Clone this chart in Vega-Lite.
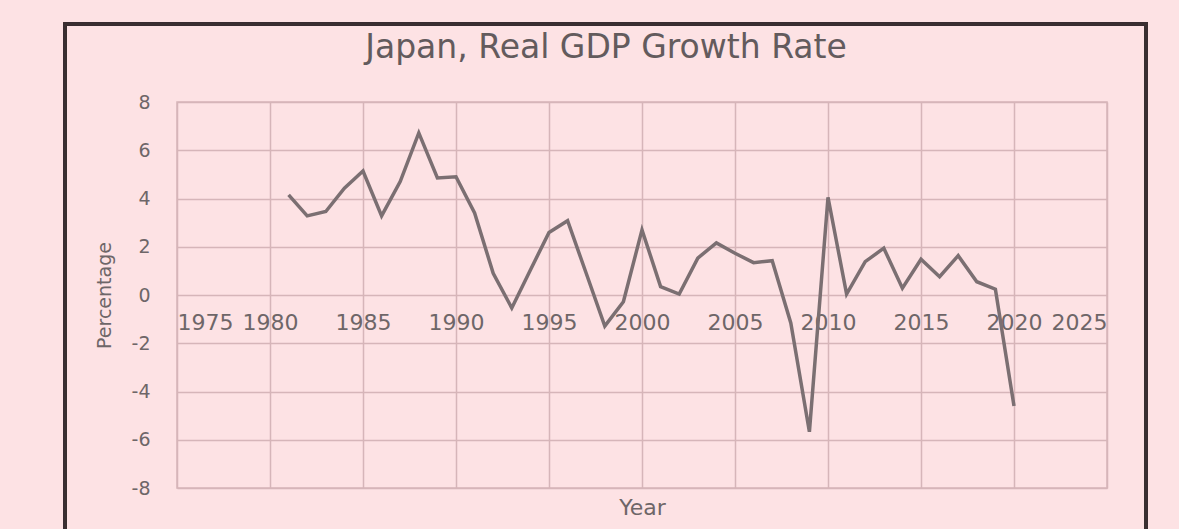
{
  "$schema": "https://vega.github.io/schema/vega-lite/v6.json",
  "width": 930,
  "height": 386,
  "autosize": {"type": "none"},
  "padding": {"left": 177, "top": 102, "right": 72, "bottom": 41},
  "background": "#fde2e4",
  "title": {
    "text": "Japan, Real GDP Growth Rate",
    "font": "DejaVu Sans",
    "fontSize": 33,
    "fontWeight": "normal",
    "color": "#635b5d",
    "anchor": "middle",
    "dx": -36,
    "offset": -42
  },
  "config": {
    "view": {"stroke": "#d6b5b9", "strokeWidth": 1.5},
    "axis": {
      "gridColor": "#d6b5b9",
      "gridWidth": 1.5,
      "gridOpacity": 1,
      "domain": false,
      "ticks": false,
      "labelFont": "DejaVu Sans",
      "titleFont": "DejaVu Sans",
      "labelColor": "#6e6668",
      "titleColor": "#6e6668",
      "titleFontWeight": "normal"
    }
  },
  "data": {
    "values": [
      {"year": 1981, "growth": 4.15},
      {"year": 1982, "growth": 3.28},
      {"year": 1983, "growth": 3.46},
      {"year": 1984, "growth": 4.43},
      {"year": 1985, "growth": 5.14},
      {"year": 1986, "growth": 3.28},
      {"year": 1987, "growth": 4.7},
      {"year": 1988, "growth": 6.72},
      {"year": 1989, "growth": 4.85},
      {"year": 1990, "growth": 4.9},
      {"year": 1991, "growth": 3.4},
      {"year": 1992, "growth": 0.9},
      {"year": 1993, "growth": -0.54},
      {"year": 1994, "growth": 1.04},
      {"year": 1995, "growth": 2.59},
      {"year": 1996, "growth": 3.08},
      {"year": 1997, "growth": 0.9},
      {"year": 1998, "growth": -1.29},
      {"year": 1999, "growth": -0.28},
      {"year": 2000, "growth": 2.7},
      {"year": 2001, "growth": 0.35},
      {"year": 2002, "growth": 0.04},
      {"year": 2003, "growth": 1.53},
      {"year": 2004, "growth": 2.16},
      {"year": 2005, "growth": 1.73},
      {"year": 2006, "growth": 1.34},
      {"year": 2007, "growth": 1.42},
      {"year": 2008, "growth": -1.16},
      {"year": 2009, "growth": -5.67},
      {"year": 2010, "growth": 4.05},
      {"year": 2011, "growth": 0.04},
      {"year": 2012, "growth": 1.38},
      {"year": 2013, "growth": 1.94},
      {"year": 2014, "growth": 0.28},
      {"year": 2015, "growth": 1.48},
      {"year": 2016, "growth": 0.76},
      {"year": 2017, "growth": 1.63},
      {"year": 2018, "growth": 0.55},
      {"year": 2019, "growth": 0.24},
      {"year": 2020, "growth": -4.6}
    ]
  },
  "layer": [
    {
      "mark": {"type": "line", "color": "#7b6f72", "strokeWidth": 3.5, "strokeJoin": "miter"},
      "encoding": {
        "x": {
          "field": "year",
          "type": "quantitative",
          "scale": {"domain": [1975, 2025], "nice": false, "zero": false},
          "axis": {
            "title": "Year",
            "values": [1975, 1980, 1985, 1990, 1995, 2000, 2005, 2010, 2015, 2020, 2025],
            "labelExpr": "toString(datum.value)",
            "offset": -193,
            "labelFontSize": 22,
            "labelPadding": 17,
            "titleFontSize": 22,
            "titleY": 202
          }
        },
        "y": {
          "field": "growth",
          "type": "quantitative",
          "scale": {"domain": [-8, 8], "nice": false},
          "axis": {
            "title": "Percentage",
            "values": [-8, -6, -4, -2, 0, 2, 4, 6, 8],
            "labelExpr": "toString(datum.value)",
            "labelFontSize": 19,
            "labelPadding": 27,
            "titleFontSize": 19,
            "titlePadding": 17
          }
        }
      }
    },
    {
      "mark": {"type": "rect", "fill": null, "filled": false, "stroke": "#3a2f31", "strokeWidth": 2.5, "clip": false},
      "encoding": {
        "x": {"datum": 1968.98, "type": "quantitative"},
        "x2": {"datum": 2027.1},
        "y": {"datum": 11.23, "type": "quantitative"},
        "y2": {"datum": -12}
      }
    }
  ]
}
